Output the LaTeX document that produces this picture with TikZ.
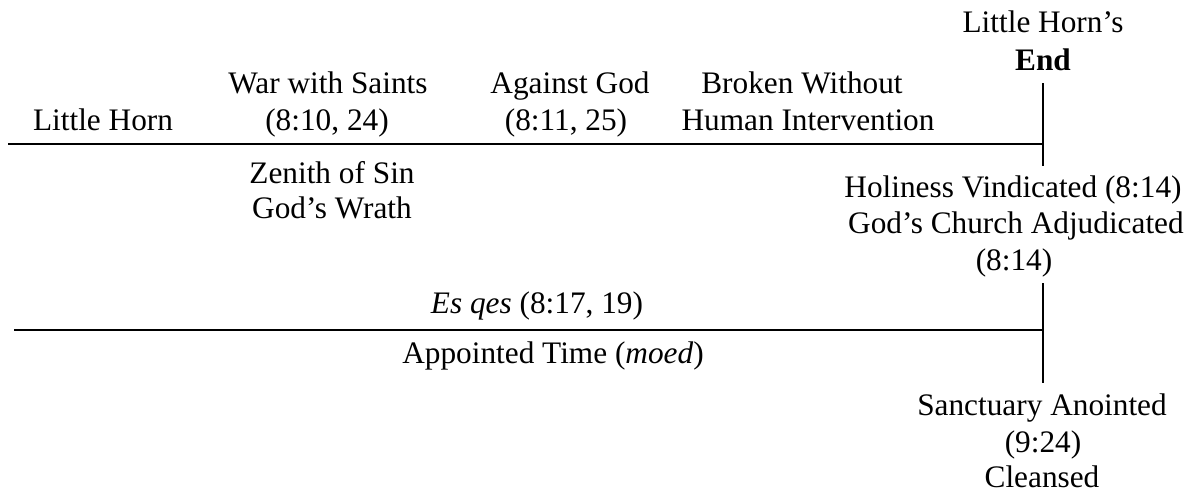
\documentclass[tikz,border=0pt]{standalone}
\usepackage{fontspec}
\setmainfont{Liberation Serif}
\begin{document}
\begin{tikzpicture}[x=1pt,y=-1pt,
  lbl/.style={anchor=base,inner sep=0pt,font=\fontsize{31.3}{37}\selectfont},
  rule/.style={line width=2pt}]
\useasboundingbox (0,0) rectangle (1195,493);
% top row
\node[lbl] (lh) at (103,130) {Little Horn};
\node[lbl] (ws1) at (328,93) {War with Saints};
\node[lbl] (ws2) at (327,130) {(8:10, 24)};
\node[lbl] (ag1) at (570,93) {Against God};
\node[lbl] (ag2) at (566,130) {(8:11, 25)};
\node[lbl] (bw1) at (802,93) {Broken Without};
\node[lbl] (bw2) at (808,130) {Human Intervention};
\node[lbl] (end1) at (1043,32) {Little Horn’s};
\node[lbl] (end2) at (1043,70) {\textbf{End}};
% below line 1
\node[lbl] (zs1) at (332,183) {Zenith of Sin};
\node[lbl] (zs2) at (332,218) {God’s Wrath};
\node[lbl] (hv1) at (1013,197) {Holiness Vindicated (8:14)};
\node[lbl] (hv2) at (1016,233) {God’s Church Adjudicated};
\node[lbl] (hv3) at (1014,270) {(8:14)};
% second line
\node[lbl] (eq) at (537,313) {\textit{Es qes} (8:17, 19)};
\node[lbl] (at) at (553,363) {Appointed Time (\textit{moed})};
\node[lbl] (sa1) at (1042,415) {Sanctuary Anointed};
\node[lbl] (sa2) at (1043,452) {(9:24)};
\node[lbl] (sa3) at (1042,487) {Cleansed};
% lines
\coordinate (a1) at (8,144);
\coordinate (a2) at (1043,144);
\coordinate (v1t) at (1043,83);
\coordinate (v1b) at (1043,166);
\coordinate (b1) at (14,330);
\coordinate (b2) at (1043,330);
\coordinate (v2t) at (1043,283);
\coordinate (v2b) at (1043,383);
\draw[rule] (a1) -- (a2);
\draw[rule] (v1t) -- (v1b);
\draw[rule] (b1) -- (b2);
\draw[rule] (v2t) -- (v2b);
\end{tikzpicture}
\end{document}
